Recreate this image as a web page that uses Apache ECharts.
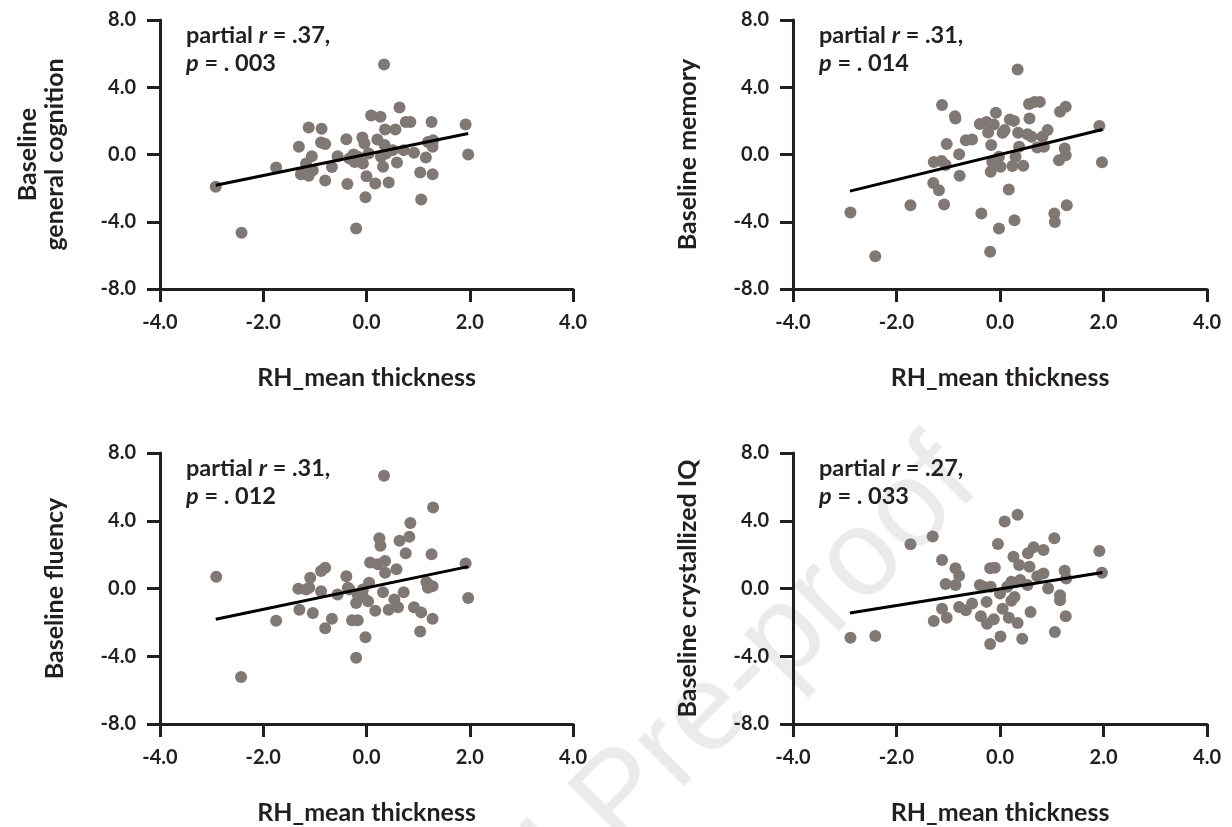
<!DOCTYPE html>
<html>
<head>
<meta charset="utf-8">
<script src="https://cdn.jsdelivr.net/npm/echarts@6/dist/echarts.min.js"></script>
<style>
  html, body { margin: 0; padding: 0; background: #fff; }
  #chart { width: 1232px; height: 827px; }
</style>
</head>
<body>
<div id="chart"></div>
<script>
  // x = RH mean thickness, y = baseline score
  var generalCognition = [
    [-2.92, -1.92], [-2.42, -4.66], [-1.75, -0.77], [-1.31, 0.46], [-1.12, 1.61],
    [-0.87, 1.53], [-0.88, 0.71], [-0.80, 0.62], [-1.06, -0.10], [-1.17, -0.54],
    [-1.27, -1.17], [-1.12, -1.27], [-1.04, -0.93], [-0.80, -1.55], [-0.67, -0.75],
    [-0.56, -0.10], [-0.39, 0.91], [-0.37, -1.75], [-0.25, 0.00], [-0.23, -0.44],
    [-0.20, -4.40], [-0.08, 1.01], [-0.04, 0.65], [-0.07, -0.54], [0.00, -1.29],
    [-0.02, -2.54], [0.04, 0.06], [0.09, 2.32], [0.27, 2.24], [0.34, 5.36],
    [0.21, 0.89], [0.35, 0.56], [0.36, 1.49], [0.28, -0.14], [0.32, -0.73],
    [0.17, -1.73], [0.43, -1.67], [0.56, 1.49], [0.59, -0.48], [0.64, 2.80],
    [0.51, 0.26], [0.72, 0.26], [0.76, 1.94], [0.85, 1.94], [0.92, 0.10],
    [1.04, -1.07], [1.06, -2.68], [1.15, -0.18], [1.19, 0.75], [1.26, 1.94],
    [1.28, 0.46], [1.28, -1.17], [1.29, 0.85], [1.92, 1.79], [1.97, 0.00],
    [-0.33, -0.24], [-0.17, -0.14], [-1.24, -1.13], [0.38, 0.06]
  ];
  var memory = [
    [-2.89, -3.45], [-2.41, -6.05], [-1.73, -3.02], [-1.12, 2.94], [-1.08, -2.98],
    [-1.03, 0.62], [-1.29, -1.69], [-1.18, -2.12], [-1.28, -0.44], [-1.13, -0.38],
    [-1.05, -0.63], [-0.87, 2.28], [-0.86, 2.14], [-0.79, 0.02], [-0.78, -1.27],
    [-0.66, 0.85], [-0.54, 0.89], [-0.39, 1.81], [-0.36, -3.51], [-0.26, 1.94],
    [-0.23, 1.31], [-0.17, 0.56], [-0.19, -5.79], [-0.18, -1.03], [-0.12, 1.79],
    [-0.08, 2.48], [-0.15, -0.44], [-0.02, -0.14], [0.01, -0.73], [-0.02, -4.40],
    [0.05, 1.29], [0.09, 1.45], [0.17, -2.08], [0.19, 2.08], [0.27, 2.00],
    [0.24, -0.69], [0.28, -3.91], [0.34, 5.06], [0.30, -0.14], [0.37, 0.46],
    [0.35, 1.29], [0.45, -0.67], [0.53, 1.21], [0.57, 2.14], [0.61, 1.05],
    [0.56, 3.00], [0.67, 3.13], [0.77, 3.13], [0.72, 0.42], [0.82, 1.05],
    [0.85, 0.46], [0.92, 1.45], [1.05, -3.51], [1.06, -4.01], [1.14, -0.34],
    [1.16, 2.54], [1.27, 2.84], [1.25, 0.36], [1.27, -0.04], [1.29, -3.02],
    [1.92, 1.69], [1.97, -0.46]
  ];
  var fluency = [
    [-2.91, 0.69], [-2.43, -5.22], [-1.75, -1.90], [-1.30, -1.25], [-1.32, -0.02],
    [-1.17, -0.06], [-1.09, 0.63], [-1.04, -1.45], [-0.88, -0.16], [-0.88, 1.03],
    [-0.80, 1.23], [-0.80, -2.34], [-0.67, -1.79], [-0.56, -0.36], [-0.39, 0.73],
    [-0.36, 0.04], [-0.28, -1.88], [-0.17, -1.88], [-0.20, -4.09], [-0.20, -0.85],
    [-0.17, -0.36], [-0.07, -0.46], [-0.02, -2.88], [0.03, -0.75], [0.05, 0.34],
    [0.07, 1.53], [0.17, -1.31], [0.22, 1.43], [0.25, 2.96], [0.27, 2.52],
    [0.32, -0.22], [0.34, 6.65], [0.36, 1.63], [0.36, 0.93], [0.43, -1.25],
    [0.54, -0.65], [0.58, 1.13], [0.61, -1.11], [0.64, 2.82], [0.72, -0.22],
    [0.76, 2.08], [0.83, 3.06], [0.85, 3.87], [0.92, -1.11], [1.04, -2.54],
    [1.06, -1.41], [1.16, 0.38], [1.19, 0.04], [1.28, 0.14], [1.26, 2.02],
    [1.28, -1.79], [1.29, 4.78], [1.92, 1.47], [1.97, -0.56], [-0.07, -0.06],
    [-0.33, -0.06], [-1.11, 0.04]
  ];
  var crystallizedIQ = [
    [-2.89, -2.91], [-2.41, -2.81], [-1.73, 2.61], [-1.30, 3.07], [-1.12, 1.68],
    [-0.86, 1.19], [-0.79, 0.75], [-1.05, 0.26], [-0.86, 0.20], [-1.28, -1.92],
    [-1.12, -1.19], [-1.03, -1.72], [-0.79, -1.09], [-0.66, -1.29], [-0.54, -0.89],
    [-0.39, 0.20], [-0.37, -1.64], [-0.26, -0.79], [-0.25, -2.08], [-0.19, -3.27],
    [-0.19, 1.19], [-0.10, 1.23], [-0.18, 0.10], [-0.12, -1.82], [-0.04, 2.63],
    [0.00, -0.30], [0.05, -1.19], [0.01, -2.83], [0.09, 3.96], [0.17, -1.72],
    [0.22, -0.73], [0.26, 1.88], [0.28, -0.50], [0.22, 0.40], [0.34, 4.36],
    [0.37, 1.39], [0.39, 0.50], [0.34, -2.04], [0.43, -2.97], [0.53, 0.20],
    [0.57, 1.29], [0.54, 2.08], [0.59, -1.39], [0.65, 2.44], [0.72, 0.73],
    [0.84, 2.28], [0.84, 0.89], [0.93, 0.00], [1.05, 2.97], [1.06, -2.57],
    [1.16, -0.40], [1.16, -0.69], [1.25, 1.05], [1.28, 0.59], [1.27, -1.64],
    [1.92, 2.22], [1.97, 0.93], [-0.32, 0.10], [0.14, 0.10]
  ];

  // fitted line end points
  var generalCognitionFit = [[-2.92, -1.83], [1.97, 1.25]];
  var memoryFit = [[-2.90, -2.18], [1.98, 1.49]];
  var fluencyFit = [[-2.92, -1.81], [1.97, 1.29]];
  var crystallizedIQFit = [[-2.90, -1.45], [1.98, 0.95]];

  var yNames = ['Baseline\ngeneral cognition', 'Baseline memory', 'Baseline fluency', 'Baseline crystallized IQ'];
  var rValues = ['.37', '.31', '.31', '.27'];
  var pValues = ['. 003', '. 014', '. 012', '. 033'];
  var xName = 'RH_mean thickness';

  var panels = [
    {pts: generalCognition, fit: generalCognitionFit, left: 160, top: 20, width: 413, height: 269},
    {pts: memory, fit: memoryFit, left: 793, top: 20, width: 414, height: 269},
    {pts: fluency, fit: fluencyFit, left: 160, top: 453, width: 413, height: 271},
    {pts: crystallizedIQ, fit: crystallizedIQFit, left: 793, top: 453, width: 414, height: 271}
  ];

  var ink = '#231f20';
  var dotColor = '#7f7875';
  var font = 'Lato';

  var grid = [], xAxis = [], yAxis = [], series = [], title = [];
  panels.forEach(function (p, i) {
    grid.push({left: p.left, top: p.top, width: p.width, height: p.height, containLabel: false});
    xAxis.push({
      gridIndex: i, type: 'value', min: -4, max: 4, interval: 2,
      name: xName, nameLocation: 'middle', nameGap: 76,
      nameTextStyle: {color: ink, fontFamily: font, fontWeight: 'bold', fontSize: 25},
      axisLine: {onZero: false, lineStyle: {color: ink, width: 3}},
      axisTick: {length: 13, lineStyle: {color: ink, width: 3}},
      axisLabel: {margin: 24, color: ink, fontFamily: font, fontWeight: 'bold', fontSize: 20,
        formatter: function (v) { return v.toFixed(1); }},
      splitLine: {show: false}
    });
    yAxis.push({
      gridIndex: i, type: 'value', min: -8, max: 8, interval: 4,
      name: yNames[i], nameLocation: 'middle', nameRotate: 90, nameGap: 92,
      nameTextStyle: {color: ink, fontFamily: font, fontWeight: 'bold', fontSize: 25, lineHeight: 27},
      axisLine: {onZero: false, lineStyle: {color: ink, width: 3}},
      axisTick: {length: 13, lineStyle: {color: ink, width: 3}},
      axisLabel: {margin: 24, color: ink, fontFamily: font, fontWeight: 'bold', fontSize: 20,
        formatter: function (v) { return v.toFixed(1); }},
      splitLine: {show: false}
    });
    series.push({
      type: 'scatter', xAxisIndex: i, yAxisIndex: i, data: p.pts,
      symbolSize: 12, itemStyle: {color: dotColor, opacity: 1}, z: 2
    });
    series.push({
      type: 'line', xAxisIndex: i, yAxisIndex: i, data: p.fit,
      symbol: 'none', lineStyle: {color: '#000', width: 3}, z: 3
    });
    title.push({
      left: p.left + 26, top: p.top + 1, padding: 0,
      text: 'partial {i|r} = ' + rValues[i] + ',\n{i|p} = ' + pValues[i],
      textStyle: {
        color: ink, fontFamily: font, fontWeight: 'bold', fontSize: 23.5, lineHeight: 28,
        rich: {i: {fontStyle: 'italic', fontWeight: 'bold', fontFamily: font, fontSize: 23.5, lineHeight: 28, color: ink}}
      }
    });
  });

  var chart = echarts.init(document.getElementById('chart'));
  chart.setOption({
    animation: false,
    backgroundColor: '#fff',
    title: title,
    grid: grid,
    xAxis: xAxis,
    yAxis: yAxis,
    series: series,
    graphic: [{
      type: 'text', silent: true, z: -10,
      x: 1002, y: 507, rotation: Math.PI * 45 / 180,
      style: {
        text: 'Journal Pre-proof', fill: '#ebebeb',
        font: '123px "Liberation Sans"', align: 'right', verticalAlign: 'bottom'
      }
    }]
  });
</script>
</body>
</html>
